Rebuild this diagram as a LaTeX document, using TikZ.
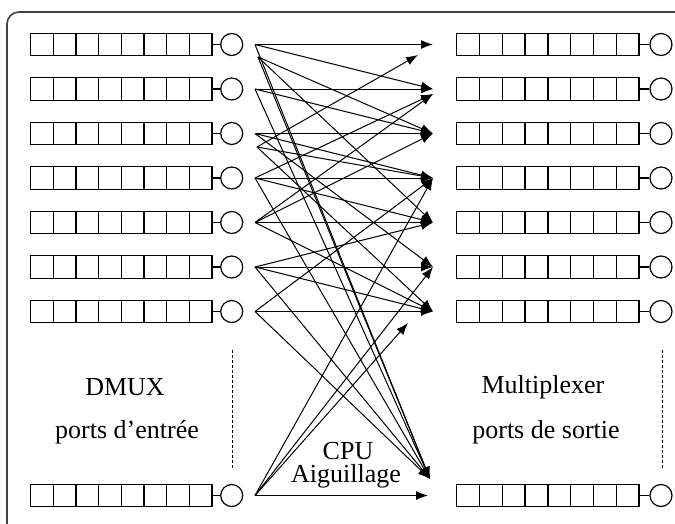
\documentclass[tikz,border=0pt]{standalone}
\usepackage{fontspec}
\setmainfont{Liberation Serif}
\usetikzlibrary{arrows.meta}
\begin{document}
\begin{tikzpicture}[x=1pt,y=-1pt,
  cell/.style={draw, line width=1.3pt},
  port/.style={circle, draw, line width=1.2pt, minimum size=22pt, inner sep=0pt},
  link/.style={line width=1pt, -{Latex[length=12pt,width=9pt]}},
  lbl/.style={font=\fontsize{26}{20}\selectfont, inner sep=0pt, anchor=base},
  sep/.style={densely dashed, line width=1pt},
  frame/.style={draw=black!75, line width=1.6pt, rounded corners=12pt}]
\useasboundingbox (0,0) rectangle (675,523);
\draw[frame] (7,12) rectangle (720,570);
% queues, ports, and connector end points
\foreach \n/\y in {1/44.5,2/89,3/133.5,4/178,5/222.5,6/267,7/311.5,B/495.5}{
  \foreach \k in {0,...,7}{
    \draw[cell] ({30.7+\k*22.66},{\y-11.3}) rectangle ++(22.66,22.6);
    \draw[cell] ({456.7+\k*22.79},{\y-11.3}) rectangle ++(22.79,22.6);
  }
  \node[port] (in\n) at (231.7,\y) {};
  \node[port] (out\n) at (661,\y) {};
  \draw[cell] (212,\y) -- (in\n.west);
  \draw[cell] (639,\y) -- (out\n.west);
  \coordinate (s\n) at (255,\y);
  \coordinate (t\n) at (433,\y);
}
\coordinate (s1b) at (258,57);
\coordinate (s3b) at (257,147);
\coordinate (tB) at (430,479);
\coordinate (tBh) at (428,495.5);
\coordinate (t7b) at (408,323);
\coordinate (t1b) at (418,55);
\coordinate (t2b) at (433,94);
% connections
\foreach \a/\b in {s1/t1,s1/t2,s1/tB,
  s1b/t3,s1b/t5,s1b/tB,
  s2/t2,s2/t3,s2/tB,
  s3/t3,s3/t4,s3/t6,
  s3b/t1b,s3b/t4,s3b/t7,
  s4/t4,s4/t2b,s4/t5,s4/tB,
  s5/t5,s5/t2b,s5/t3,s5/t7,
  s6/t6,s6/t5,s6/t7,s6/tB,
  s7/t7,s7/t4,s7/tB,
  sB/tBh,sB/t4,sB/t6,sB/t7b}{
  \draw[link] (\a) -- (\b);
}
% separators
\draw[sep] (232,350) -- (232,470);
\draw[sep] (662,350) -- (662,470);
% labels
\node[lbl] (dmux) at (125,395) {DMUX};
\node[lbl] (pin) at (127,438) {ports d'entrée};
\node[lbl] (mux) at (543,393) {Multiplexer};
\node[lbl] (pout) at (546,438) {ports de sortie};
\node[lbl] (cpu) at (348,459) {CPU};
\node[lbl] (aig) at (346,482) {Aiguillage};
\end{tikzpicture}
\end{document}
